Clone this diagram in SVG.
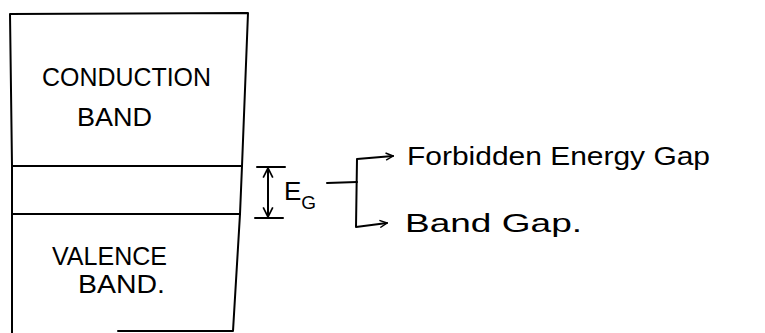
<svg xmlns="http://www.w3.org/2000/svg" width="765" height="333" viewBox="0 0 765 333">
<style>
.ln{fill:none;stroke:#000;stroke-width:2;stroke-linecap:round;stroke-linejoin:round}
.t{font-family:"Liberation Sans",Arial,sans-serif;fill:#000}
</style>
<defs>
<marker id="ah" viewBox="0 0 10 10" refX="9" refY="5" markerWidth="9" markerHeight="9" markerUnits="userSpaceOnUse" orient="auto-start-reverse">
<polyline points="1,1 9,5 1,9" fill="none" stroke="#000" stroke-width="1.6"/>
</marker>
<marker id="ah2" viewBox="0 0 10 10" refX="9" refY="5" markerWidth="12" markerHeight="12" markerUnits="userSpaceOnUse" orient="auto-start-reverse">
<polyline points="1,1 9,5 1,9" fill="none" stroke="#000" stroke-width="1.4"/>
</marker>
</defs>
<rect width="765" height="333" fill="#fff"/>
<g id="conduction-band">
<path class="ln" d="M12,166 L10,14 L248,13 L242,166 Z"/>
<text class="t" x="42" y="86" font-size="25" textLength="169" lengthAdjust="spacingAndGlyphs">CONDUCTION</text>
<text class="t" x="77" y="126" font-size="25" textLength="75" lengthAdjust="spacingAndGlyphs">BAND</text>
</g>
<g id="gap">
<path class="ln" d="M12,166 L242,166 L240,214 L12,214 Z"/>
</g>
<g id="valence-band">
<path class="ln" d="M12,214 L12,333 M240,214 L233,331 L118,331"/>
<text class="t" x="52" y="265" font-size="25" textLength="115" lengthAdjust="spacingAndGlyphs">VALENCE</text>
<text class="t" x="78" y="293" font-size="25" textLength="87" lengthAdjust="spacingAndGlyphs">BAND.</text>
</g>
<g id="eg-label">
<text class="t" x="284" y="200" font-size="26">E<tspan font-size="19" dy="9">G</tspan></text>
</g>
<g id="forbidden-label">
<text class="t" x="407" y="165" font-size="26" textLength="303" lengthAdjust="spacingAndGlyphs">Forbidden Energy Gap</text>
</g>
<g id="bandgap-label">
<text class="t" x="405" y="232" font-size="25" textLength="177" lengthAdjust="spacingAndGlyphs">Band Gap.</text>
</g>
<g id="connectors">
<line class="ln" x1="257" y1="167" x2="285" y2="167"/>
<line class="ln" x1="255" y1="218" x2="283" y2="218"/>
<line class="ln" x1="268" y1="168" x2="268" y2="217" marker-start="url(#ah2)" marker-end="url(#ah2)"/>
<polyline class="ln" points="327,183 357,182"/>
<polyline class="ln" points="393,156 357,159 356,227 387,223" marker-start="url(#ah)" marker-end="url(#ah)"/>
</g>
</svg>
